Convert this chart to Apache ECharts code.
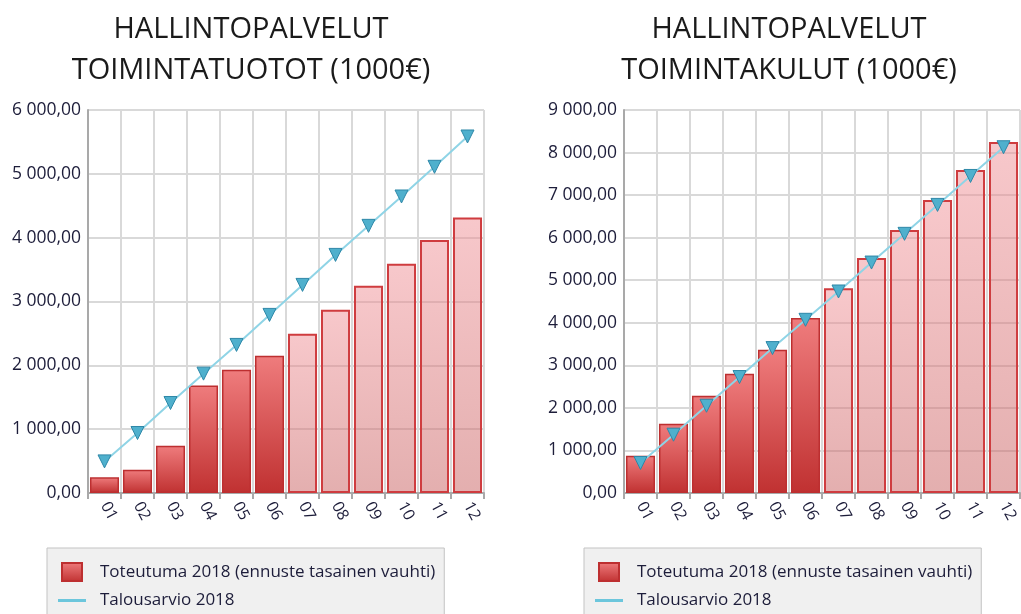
<!DOCTYPE html>
<html>
<head>
<meta charset="utf-8">
<script src="https://cdn.jsdelivr.net/npm/echarts@6/dist/echarts.min.js"></script>
<style>
  html, body { margin: 0; padding: 0; background: #fff; }
  #chart { width: 1021px; height: 614px; }
</style>
</head>
<body>
<div id="chart"></div>
<script>
var months = ["01", "02", "03", "04", "05", "06", "07", "08", "09", "10", "11", "12"];
// toimintatuotot
var tuototToteutuma = [245, 365, 740, 1685, 1930, 2150, 2495, 2870, 3245, 3590, 3965, 4315];
var tuototBudjetti = [495, 940, 1410, 1870, 2320, 2790, 3260, 3730, 4185, 4645, 5110, 5585];
// toimintakulut
var kulutToteutuma = [875, 1630, 2285, 2800, 3365, 4110, 4810, 5525, 6180, 6885, 7590, 8250];
var kulutBudjetti = [705, 1370, 2050, 2725, 3405, 4070, 4735, 5415, 6090, 6770, 7450, 8125];
var actualMonths = 6; // 01-06 toteutunut, loput ennuste
var nameBar = "Toteutuma 2018 (ennuste tasainen vauhti)";
var nameLine = "Talousarvio 2018";

var myChart = echarts.init(document.getElementById("chart"));

function fmt(v) {
  var parts = v.toFixed(2).split(".");
  parts[0] = parts[0].replace(/\B(?=(\d{3})+(?!\d))/g, " ");
  return parts.join(",");
}

var darkRed = new echarts.graphic.LinearGradient(0, 0, 0, 1, [
  { offset: 0, color: "#ef7c7d" },
  { offset: 1, color: "#c03131" },
]);
var lightRed = new echarts.graphic.LinearGradient(0, 0, 0, 1, [
  { offset: 0, color: "rgba(240,145,151,0.5)" },
  { offset: 1, color: "rgba(200,95,95,0.5)" },
]);

function barData(arr) {
  return arr.map(function (v, i) {
    if (i < actualMonths) return v;
    return {
      value: v,
      itemStyle: { color: lightRed, borderColor: "#cf3c3f", borderWidth: 2 },
    };
  });
}

function xAxis(gridIndex) {
  return {
    type: "category",
    gridIndex: gridIndex,
    data: months,
    boundaryGap: true,
    axisLine: { lineStyle: { color: "#a9a9a9", width: 2 } },
    axisTick: { show: true, length: 6, lineStyle: { color: "#a9a9a9", width: 2 } },
    splitLine: { show: true, lineStyle: { color: "#d9d9d9", width: 2 } },
    axisLabel: { rotate: -62, color: "#1d1d3a", fontSize: 16, margin: 10, fontFamily: "Open Sans" },
  };
}

function yAxis(gridIndex, max) {
  return {
    type: "value",
    gridIndex: gridIndex,
    min: 0,
    max: max,
    interval: 1000,
    axisLine: { show: true, lineStyle: { color: "#a9a9a9", width: 2 } },
    axisTick: { show: false },
    splitLine: { lineStyle: { color: "#d9d9d9", width: 2 } },
    axisLabel: { color: "#1d1d3a", fontSize: 17.5, margin: 7, formatter: fmt, fontFamily: "Open Sans" },
  };
}

function lineSeries(idx, data) {
  return {
    name: nameLine,
    type: "line",
    xAxisIndex: idx,
    yAxisIndex: idx,
    data: data,
    symbol: "triangle",
    symbolRotate: 180,
    symbolSize: 13,
    lineStyle: { color: "#8fd4e6", width: 2 },
    itemStyle: { color: "#4fb0cd", borderColor: "#2f88a8", borderWidth: 1 },
    z: 5,
  };
}

function barSeries(idx, data) {
  return {
    name: nameBar,
    type: "bar",
    xAxisIndex: idx,
    yAxisIndex: idx,
    data: barData(data),
    barCategoryGap: "12%",
    itemStyle: { color: darkRed, borderColor: "#bd2f30", borderWidth: 1.5 },
  };
}

function legend(left) {
  return {
    left: left,
    top: 548,
    height: 120,
    orient: "vertical",
    backgroundColor: "#f0f0f0",
    borderColor: "#c3c3c3",
    borderWidth: 1,
    padding: [14, 9, 20, 10],
    itemWidth: 37,
    itemHeight: 18,
    itemGap: 9,
    textStyle: { color: "#1d1d3a", fontSize: 17, fontFamily: "Open Sans" },
    data: [
      {
        name: nameBar,
        icon: "path://M0,0 L0,0 M4,0 L24,0 L24,18 L4,18 Z M37,18 L37,18",
      },
      {
        name: nameLine,
        icon: "path://M0,0 L0,0 M0,8 L28,8 L28,11 L0,11 Z M37,18 L37,18",
        itemStyle: { color: "#6cc6dc", borderWidth: 0 },
      },
    ],
  };
}

var titleStyle = { color: "#1a1a1a", fontSize: 29, fontWeight: "normal", lineHeight: 41, fontFamily: "Open Sans" };

var option = {
  animation: false,
  title: [
    { text: "HALLINTOPALVELUT\nTOIMINTATUOTOT (1000€)", left: 246, top: 4, textAlign: "center", textStyle: titleStyle },
    { text: "HALLINTOPALVELUT\nTOIMINTAKULUT (1000€)", left: 784, top: 4, textAlign: "center", textStyle: titleStyle },
  ],
  legend: [legend(47), legend(584)],
  grid: [
    { left: 88, right: 537, top: 110, bottom: 121 },
    { left: 624, right: 1, top: 110, bottom: 121 },
  ],
  xAxis: [xAxis(0), xAxis(1)],
  yAxis: [yAxis(0, 6000), yAxis(1, 9000)],
  series: [
    barSeries(0, tuototToteutuma),
    lineSeries(0, tuototBudjetti),
    barSeries(1, kulutToteutuma),
    lineSeries(1, kulutBudjetti),
  ],
};

myChart.setOption(option);
</script>
</body>
</html>
